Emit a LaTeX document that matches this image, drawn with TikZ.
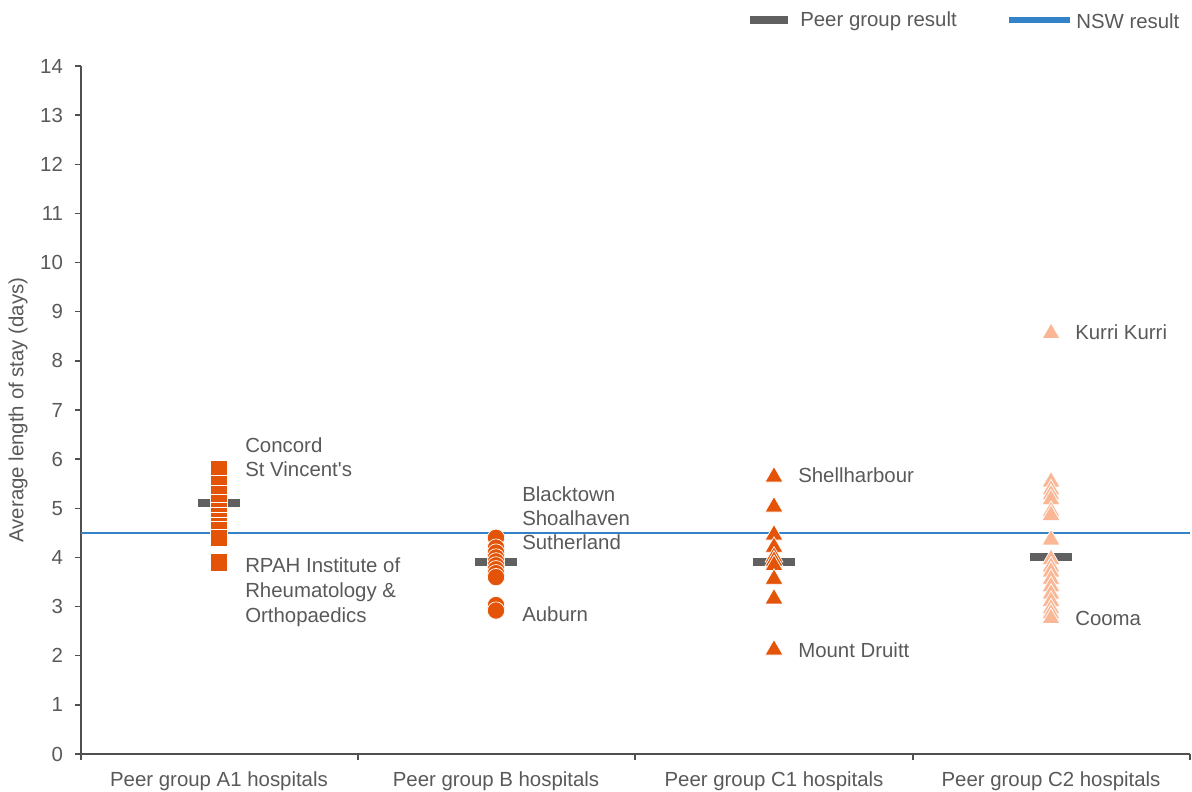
\documentclass[tikz,border=0pt]{standalone}
\usepackage{fontspec}
\setmainfont{Liberation Sans}
\usetikzlibrary{shapes.geometric}
\definecolor{dorange}{RGB}{228,84,8}
\definecolor{lorange}{RGB}{250,183,150}
\definecolor{peer}{RGB}{96,96,96}
\definecolor{nsw}{RGB}{52,130,200}
\definecolor{txt}{RGB}{89,89,89}
\definecolor{axis}{RGB}{80,80,80}
\tikzset{
  lbl/.style={font=\fontsize{15.3}{18}\selectfont, text=txt, inner sep=0pt},
  sq/.style={rectangle, fill=dorange, draw=white, line width=0.5pt, minimum size=13pt, inner sep=0pt},
  ci/.style={circle, fill=dorange, draw=white, line width=0.5pt, minimum size=13pt, inner sep=0pt},
  tri/.style={regular polygon, regular polygon sides=3, fill=#1, draw=white, line width=0.5pt, minimum size=15.5pt, inner sep=0pt},
  peerbar/.style={draw=peer, line width=6pt},
  axisline/.style={draw=axis, line width=1.1pt},
}
\begin{document}
\begin{tikzpicture}[x=0.75pt,y=-0.75pt]
\useasboundingbox (0,0) rectangle (1192,792);
% axes
\coordinate (o) at (81,754);
\coordinate (top) at (81,66);
\coordinate (xe) at (1190,754);
\draw[axisline] (top) -- (o) -- (xe);
\foreach \v in {0,...,14} {
  \coordinate (tk\v) at (81,{754-49.14*\v});
  \draw[axisline] (tk\v) -- ++(-6,0) node[lbl, anchor=east, xshift=-8.5pt] (tl\v) {\v};
}
\foreach \x [count=\i] in {81,358,635,913,1190} {
  \coordinate (ct\i) at (\x,754);
  \draw[axisline] (ct\i) -- ++(0,6);
}
\node[lbl, rotate=90] (ylab) at (18,410) {Average length of stay (days)};
\node[lbl] (c1) at (219,781) {Peer group A1 hospitals};
\node[lbl] (c2) at (496,781) {Peer group B hospitals};
\node[lbl] (c3) at (774,781) {Peer group C1 hospitals};
\node[lbl] (c4) at (1051,781) {Peer group C2 hospitals};
% NSW line
\coordinate (n1) at (81,{754-49.14*4.5});
\coordinate (n2) at (1190,{754-49.14*4.5});
\draw[nsw, line width=2pt] (n1) -- (n2);
% peer bars
\coordinate (pa) at (219,{754-49.14*5.1});
\coordinate (pb) at (496,{754-49.14*3.9});
\coordinate (pc) at (774,{754-49.14*3.9});
\coordinate (pd) at (1051,{754-49.14*4.0});
\foreach \p in {pa,pb,pc,pd} \draw[peerbar] ([xshift=-15.5pt]\p) -- ([xshift=15.5pt]\p);
% A1 squares
\foreach \v [count=\i] in {5.8,5.5,5.3,5.1,4.95,4.85,4.75,4.65,4.55,4.4,3.9}
  \node[sq] (a\i) at (219,{754-49.14*\v}) {};
% B circles
\foreach \v [count=\i] in {4.4,4.2,4.1,4.0,3.92,3.84,3.76,3.68,3.6,3.03,2.92}
  \node[ci] (b\i) at (496,{754-49.14*\v}) {};
% C1 triangles
\foreach \v [count=\i] in {5.68,5.07,4.5,4.25,4.05,3.97,3.88,3.6,3.2,2.16}
  \node[tri=dorange] (d\i) at (774,{754-49.14*\v+2}) {};
% C2 triangles
\foreach \v [count=\i] in {8.6,5.58,5.42,5.32,5.22,4.98,4.9,4.4,4.0,3.85,3.75,3.6,3.45,3.3,3.15,3.0,2.9,2.8}
  \node[tri=lorange] (e\i) at (1051,{754-49.14*\v+2}) {};
% labels
\node[lbl, anchor=base west] (l1) at (245,452) {Concord};
\node[lbl, anchor=base west] (l2) at (245,476) {St Vincent\textquotesingle s};
\node[lbl, anchor=base west] (l3) at (245,572) {RPAH Institute of};
\node[lbl, anchor=base west] (l4) at (245,597) {Rheumatology \&};
\node[lbl, anchor=base west] (l5) at (245,622) {Orthopaedics};
\node[lbl, anchor=base west] (l6) at (522,501) {Blacktown};
\node[lbl, anchor=base west] (l7) at (522,525) {Shoalhaven};
\node[lbl, anchor=base west] (l8) at (522,549) {Sutherland};
\node[lbl, anchor=base west] (l9) at (522,621) {Auburn};
\node[lbl, anchor=base west] (l10) at (798,482) {Shellharbour};
\node[lbl, anchor=base west] (l11) at (798,657) {Mount Druitt};
\node[lbl, anchor=base west] (l12) at (1075,339) {Kurri Kurri};
\node[lbl, anchor=base west] (l13) at (1075,625) {Cooma};
% legend
\coordinate (lg1) at (750,20);
\coordinate (lg2) at (788,20);
\draw[peerbar] (lg1) -- (lg2);
\node[lbl, anchor=west] (lgt1) at (800,21) {Peer group result};
\coordinate (lg3) at (1009,20);
\coordinate (lg4) at (1070,20);
\draw[nsw, line width=4pt] (lg3) -- (lg4);
\node[lbl, anchor=west] (lgt2) at (1076,21) {NSW result};
\end{tikzpicture}
\end{document}
